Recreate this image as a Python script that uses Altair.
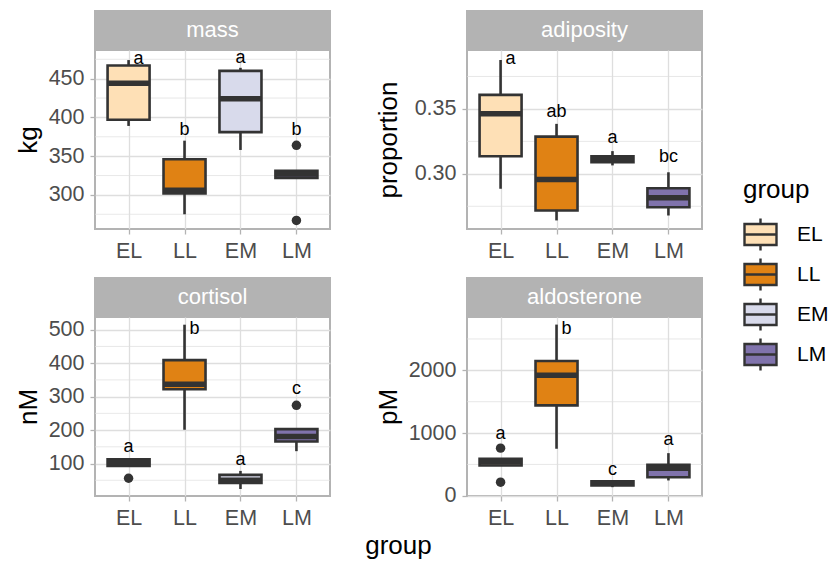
import altair as alt
import numpy as np
import pandas as pd

groups = ["EL", "LL", "EM", "LM"]
group_colors = ["#fee0b6", "#e08214", "#d8daeb", "#8073ac"]

# mass (kg)
mass_low = [389, 275, 358, 322]
mass_q1 = [397, 302, 381, 322]
mass_median = [444, 306, 424, 327]
mass_q3 = [467, 346, 460, 331]
mass_high = [474, 370, 464, 331]
mass_out_groups = ["LM", "LM"]
mass_out_values = [364, 267]
mass_letters = ["a", "b", "a", "b"]
mass_letter_y = [476, 384, 477, 384]
mass_domain = [256, 487]

# adiposity (proportion)
adip_low = [0.2885, 0.2641, 0.3065, 0.2679]
adip_q1 = [0.3135, 0.2718, 0.3090, 0.2743]
adip_median = [0.3462, 0.2956, 0.3115, 0.2815]
adip_q3 = [0.3608, 0.3287, 0.3135, 0.2889]
adip_high = [0.3877, 0.3385, 0.3175, 0.3012]
adip_out_groups = []
adip_out_values = []
adip_letters = ["a", "ab", "a", "bc"]
adip_letter_y = [0.3887, 0.3474, 0.3277, 0.3133]
adip_domain = [0.2575, 0.3954]

# cortisol (nM)
cort_low = [93, 201, 24, 137]
cort_q1 = [93, 322, 42, 166]
cort_median = [103, 337, 50, 181]
cort_q3 = [113, 409, 66, 203]
cort_high = [115, 515, 78, 203]
cort_out_groups = ["EL", "LM"]
cort_out_values = [56, 274]
cort_letters = ["a", "b", "a", "c"]
cort_letter_y = [150, 503, 110, 322]
cort_domain = [3, 538]

# aldosterone (pM)
aldo_low = [484, 750, 138, 245]
aldo_q1 = [484, 1441, 165, 297]
aldo_median = [537, 1920, 200, 440]
aldo_q3 = [591, 2149, 233, 495]
aldo_high = [591, 2729, 235, 680]
aldo_out_groups = ["EL", "EL"]
aldo_out_values = [760, 218]
aldo_letters = ["a", "b", "c", "a"]
aldo_letter_y = [990, 2665, 404, 883]
aldo_domain = [-3, 2850]

DARK = "#333333"
GRID = "#dedede"
BORDER = "#b3b3b3"
FONT = "Liberation Sans"
W = 235
H = 179
STRIP = 40
COL_GAP = 137
ROW_GAP = 88
BOX_W = 42

box_glyph = "M-1,-0.656H1V0.656H-1Z M-1,0H1 M0,-0.656V-1 M0,0.656V1"
legend = alt.Legend(title="group", orient="none", legendX=648, legendY=127,
                    symbolType=box_glyph)
color_scale = alt.Scale(domain=groups, range=group_colors)


def make_panel(name, ytitle, low, q1, med, q3, high, out_g, out_v,
               letters, letter_y, domain, major, fmt, extent, extra=()):
    df = pd.DataFrame(dict(group=groups, low=low, q1=q1, med=med, q3=q3,
                           high=high, letter=letters, ly=letter_y))
    span = domain[1] - domain[0]
    df["near"] = ((df["ly"] - df["high"]) / span * H) < 5

    # tick / grid positions (major labelled, minor halfway between)
    minor = major / 2
    k0 = int(np.ceil(domain[0] / minor - 1e-9))
    k1 = int(np.floor(domain[1] / minor + 1e-9))
    major_vals = [round(k * minor, 6) for k in range(k0, k1 + 1) if k % 2 == 0]
    minor_vals = [round(k * minor, 6) for k in range(k0, k1 + 1) if k % 2 == 1]

    yaxis = alt.Axis(title=ytitle, values=major_vals, format=fmt,
                     labelOverlap=False, gridWidth=1.3,
                     minExtent=extent, titlePadding=7)
    xaxis = alt.Axis(title=None, labelAngle=0, grid=True, gridWidth=1.3)
    x = alt.X("group:N", sort=groups,
              scale=alt.Scale(type="point", domain=groups, padding=0.6),
              axis=xaxis)
    yscale = alt.Scale(domain=domain, nice=False, zero=False)

    mdf = pd.DataFrame({"v": minor_vals})
    minor_grid = alt.Chart(mdf).mark_rule(color=GRID, strokeWidth=0.7).encode(
        y=alt.Y("v:Q", scale=yscale, axis=yaxis))

    base = alt.Chart(df).encode(x=x)
    whisk = base.mark_rule(color=DARK, strokeWidth=2.6).encode(
        y=alt.Y("low:Q", scale=yscale, axis=yaxis), y2="high:Q")
    box = base.mark_bar(size=BOX_W, stroke=DARK, strokeWidth=2.6, opacity=1).encode(
        y="q1:Q", y2="q3:Q",
        fill=alt.Fill("group:N", scale=color_scale, legend=legend))
    medline = base.mark_tick(orient="horizontal", size=BOX_W + 1, thickness=5.5,
                             color=DARK, opacity=1).encode(y="med:Q")
    layers = [minor_grid, whisk, box, medline]
    if len(out_v):
        odf = pd.DataFrame({"group": out_g, "value": out_v})
        layers.append(alt.Chart(odf).mark_circle(size=90, color=DARK, opacity=1)
                      .encode(x=x, y="value:Q"))
    tkw = dict(fontSize=18, color="black", baseline="middle")
    layers.append(base.transform_filter("!datum.near").mark_text(**tkw)
                  .encode(y="ly:Q", text="letter:N"))
    layers.append(base.transform_filter("datum.near").mark_text(dx=10, **tkw)
                  .encode(y="ly:Q", text="letter:N"))
    sdf = pd.DataFrame({"label": [name]})
    layers.append(alt.Chart(sdf).mark_rect(color=BORDER).encode(
        x=alt.value(-1), x2=alt.value(W + 1), y=alt.value(-STRIP), y2=alt.value(0)))
    layers.append(alt.Chart(sdf).mark_text(color="white", fontSize=22,
                                           baseline="alphabetic").encode(
        x=alt.value(W / 2), y=alt.value(-12.6), text="label:N"))
    layers.extend(extra)
    return alt.layer(*layers).properties(width=W, height=H)


xtitle = alt.Chart(pd.DataFrame({"t": ["group"]})).mark_text(
    fontSize=26, color="black", baseline="alphabetic").encode(
    x=alt.value((2 * W + COL_GAP) / 2), y=alt.value(236.7), text="t:N")

p1 = make_panel("mass", "kg", mass_low, mass_q1, mass_median, mass_q3, mass_high,
                mass_out_groups, mass_out_values, mass_letters, mass_letter_y,
                mass_domain, 50, "d", 46)
p2 = make_panel("adiposity", "proportion", adip_low, adip_q1, adip_median, adip_q3,
                adip_high, adip_out_groups, adip_out_values, adip_letters,
                adip_letter_y, adip_domain, 0.05, ".2f", 59)
p3 = make_panel("cortisol", "nM", cort_low, cort_q1, cort_median, cort_q3, cort_high,
                cort_out_groups, cort_out_values, cort_letters, cort_letter_y,
                cort_domain, 100, "d", 46, extra=[xtitle])
p4 = make_panel("aldosterone", "pM", aldo_low, aldo_q1, aldo_median, aldo_q3,
                aldo_high, aldo_out_groups, aldo_out_values, aldo_letters,
                aldo_letter_y, aldo_domain, 1000, "d", 59)

chart = alt.concat(
    p1, p2, p3, p4, columns=2,
    spacing={"row": ROW_GAP, "column": COL_GAP}, bounds="flush",
).resolve_scale(
    x="independent", y="independent", fill="shared"
).resolve_axis(
    x="independent", y="independent"
).properties(
    padding={"left": 14, "top": 9, "right": 5, "bottom": 3}
).configure(
    font=FONT
).configure_view(
    stroke=BORDER, strokeWidth=2
).configure_axis(
    labelFontSize=21.5, labelColor="#4d4d4d", titleFontSize=26, titleColor="black",
    titleFontWeight="normal", tickColor=BORDER, tickSize=5, tickWidth=1.3,
    gridColor=GRID, domain=False, labelPadding=6,
).configure_legend(
    symbolSize=1024, symbolStrokeColor=DARK, symbolStrokeWidth=2.4,
    symbolOpacity=1, labelFontSize=21, labelColor="black", labelOffset=19,
    titleFontSize=26, titleColor="black", titleFontWeight="normal",
    titlePadding=14, rowPadding=-3,
)

chart.save("out.html", embed_options={"renderer": "svg", "actions": False})
